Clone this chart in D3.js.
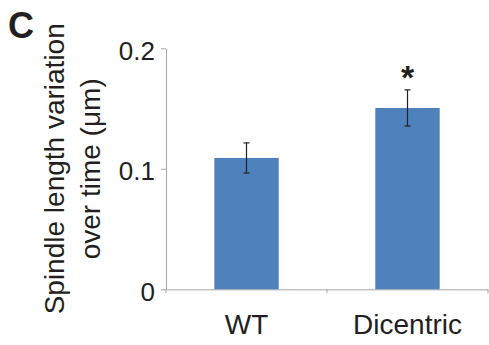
<!DOCTYPE html>
<html>
<head>
<meta charset="utf-8">
<script src="https://d3js.org/d3.v7.min.js"></script>
<style>
  body { margin: 0; background: #fff; }
  text { font-family: Arial, "Liberation Sans", sans-serif; fill: #231f20; }
</style>
</head>
<body>
<div id="chart"></div>
<script>
// data
const categories = ["WT", "Dicentric"];
const means = [0.109, 0.1505];
const errors = [0.0125, 0.015];
const significant = [false, true];
const yTicks = [0, 0.1, 0.2];
const yTickLabels = ["0", "0.1", "0.2"];

const width = 489, height = 345;
const margin = {top: 48.3, right: 1, bottom: 55.7, left: 166};

const svg = d3.select("#chart")
    .append("svg")
    .attr("width", width)
    .attr("height", height);

const x = d3.scaleBand()
    .domain(categories)
    .range([margin.left, width - margin.right])
    .padding(0);

const y = d3.scaleLinear()
    .domain([0, 0.2])
    .range([height - margin.bottom, margin.top]);

const axisColor = "#a6a6a6";
const barW = x.bandwidth() * 0.4;

// y axis
const yAxis = svg.append("g")
    .attr("transform", `translate(${margin.left},0)`)
    .call(d3.axisLeft(y).tickValues(yTicks).tickSize(5).tickSizeOuter(0).tickFormat((d, i) => yTickLabels[i]));
yAxis.select(".domain").attr("stroke", axisColor);
yAxis.selectAll(".tick line").attr("stroke", axisColor);
yAxis.selectAll(".tick text")
    .attr("x", -11)
    .attr("dy", null)
    .attr("y", 11)
    .style("font-size", "26px")
    .style("font-family", "Arial, 'Liberation Sans', sans-serif")
    .attr("fill", "#231f20");

// x axis: labels at band centres, ticks at band edges
const xAxis = svg.append("g")
    .attr("transform", `translate(0,${y(0)})`)
    .call(d3.axisBottom(x).tickSize(0).tickSizeOuter(0));
xAxis.select(".domain").attr("stroke", axisColor);
xAxis.selectAll(".tick text")
    .attr("y", 45)
    .attr("dy", null)
    .style("font-size", "28px")
    .style("font-family", "Arial, 'Liberation Sans', sans-serif")
    .attr("fill", "#231f20");

const edges = categories.map(c => x(c)).concat([x(categories[categories.length - 1]) + x.step()]);
svg.append("g")
    .selectAll("line")
    .data(edges)
    .join("line")
    .attr("x1", d => d).attr("x2", d => d)
    .attr("y1", y(0)).attr("y2", y(0) + 4)
    .attr("stroke", axisColor);

// bars
const rows = categories.map((c, i) => ({cat: c, mean: means[i], err: errors[i], sig: significant[i]}));

svg.append("g")
    .selectAll("rect")
    .data(rows)
    .join("rect")
    .attr("x", d => x(d.cat) + x.bandwidth() / 2 - barW / 2)
    .attr("y", d => y(d.mean))
    .attr("width", barW)
    .attr("height", d => y(0) - y(d.mean))
    .attr("fill", "#4f81bd");

// error bars
const eb = svg.append("g")
    .selectAll("g")
    .data(rows)
    .join("g")
    .attr("stroke", "#222")
    .attr("stroke-width", 1.2);

eb.append("line")
    .attr("x1", d => x(d.cat) + x.bandwidth() / 2)
    .attr("x2", d => x(d.cat) + x.bandwidth() / 2)
    .attr("y1", d => y(d.mean + d.err))
    .attr("y2", d => y(d.mean - d.err));

eb.selectAll("line.cap")
    .data(d => [d.mean + d.err, d.mean - d.err].map(v => ({cat: d.cat, v})))
    .join("line")
    .attr("class", "cap")
    .attr("x1", d => x(d.cat) + x.bandwidth() / 2 - 3)
    .attr("x2", d => x(d.cat) + x.bandwidth() / 2 + 3)
    .attr("y1", d => y(d.v))
    .attr("y2", d => y(d.v));

// significance star
svg.append("g")
    .selectAll("text")
    .data(rows.filter(d => d.sig))
    .join("text")
    .attr("x", d => x(d.cat) + x.bandwidth() / 2)
    .attr("y", d => y(d.mean + d.err) - 1)
    .attr("text-anchor", "middle")
    .style("font-size", "34px")
    .style("font-weight", "bold")
    .text("*");

// y axis title (two lines)
const title = svg.append("text")
    .attr("transform", `translate(0,${(y(0) + y(0.2)) / 2}) rotate(-90)`)
    .attr("text-anchor", "middle")
    .style("font-size", "28px");
title.append("tspan").attr("x", 0).attr("y", 64).text("Spindle length variation");
title.append("tspan").attr("x", 0).attr("y", 100).text("over time (\u03bcm)");

// panel letter
svg.append("text")
    .attr("x", 8)
    .attr("y", 38)
    .style("font-size", "36px")
    .style("font-weight", "bold")
    .attr("fill", "#000")
    .text("C");
</script>
</body>
</html>
